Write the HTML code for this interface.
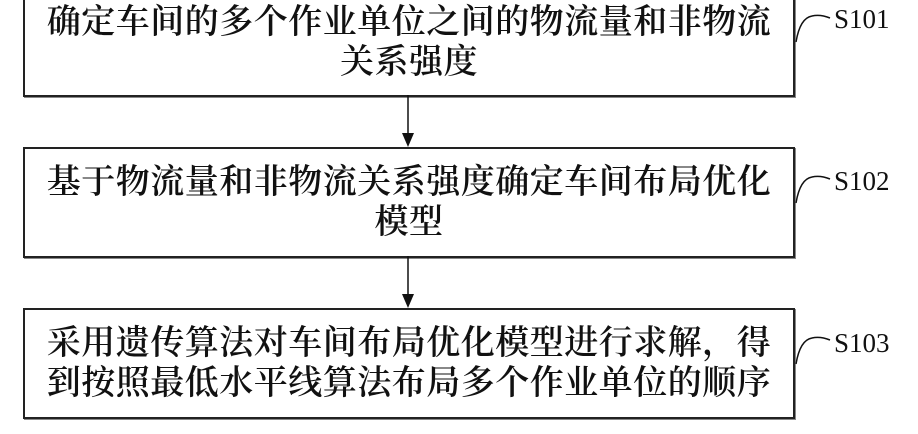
<!DOCTYPE html>
<html><head><meta charset="utf-8"><style>
body{margin:0;width:918px;height:434px;background:#fff;position:relative;overflow:hidden;font-family:"Liberation Serif","Noto Serif CJK SC",serif;}
.box{position:absolute;left:23px;width:768px;border:2px solid #222;box-shadow:1px 1px 0 #888;}
.t{position:absolute;left:0;width:100%;text-align:center;font-size:34px;letter-spacing:0.5px;line-height:40px;color:#111;white-space:nowrap;font-weight:600;}
.lab{position:absolute;left:834px;font-size:27px;color:#111;}
</style></head><body>
<div class="box" style="top:-4px;height:97px"><div class="t" style="top:5px">确定车间的多个作业单位之间的物流量和非物流<br>关系强度</div></div>
<div class="box" style="top:147px;height:107px"><div class="t" style="top:14px">基于物流量和非物流关系强度确定车间布局优化<br>模型</div></div>
<div class="box" style="top:308px;height:107px"><div class="t" style="top:14px">采用遗传算法对车间布局优化模型进行求解，得<br>到按照最低水平线算法布局多个作业单位的顺序</div></div>
<div class="lab" style="top:4px">S101</div>
<div class="lab" style="top:166px">S102</div>
<div class="lab" style="top:328px">S103</div>
<svg width="918" height="434" style="position:absolute;left:0;top:0">
<g stroke="#111" stroke-width="1.5" fill="none">
<line x1="408" y1="95" x2="408" y2="135"/>
<line x1="408" y1="256" x2="408" y2="296"/>
<path d="M796 42 Q800 18 812 16 Q820 14 830 18"/>
<path d="M796 203 Q800 179 812 177 Q820 175 830 179"/>
<path d="M796 364 Q800 340 812 338 Q820 336 830 340"/>
</g>
<polygon points="402,133 414,133 408,147" fill="#111"/>
<polygon points="402,294 414,294 408,308" fill="#111"/>
</svg>
</body></html>
